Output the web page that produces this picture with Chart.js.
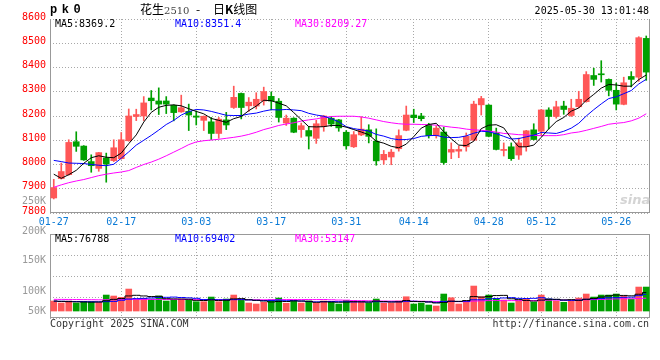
<!DOCTYPE html>
<html>
<head>
<meta charset="utf-8">
<title>pk0 日K线图</title>
<script src="https://cdn.jsdelivr.net/npm/chart.js@4.4.1/dist/chart.umd.min.js"></script>
<style>
    body { margin: 0; background: #fff; }
    #wrap { position: relative; width: 660px; height: 360px; overflow: hidden; background: #fff; }
    canvas { position: absolute; left: 0; }
    #priceChart { top: 0; }
    #volChart { top: 226px; }
    .t { position: absolute; font: 10px "DejaVu Sans Mono", monospace; line-height: 12px; white-space: pre; }
    .cn { font: 12px "Noto Sans CJK SC", sans-serif; line-height: 14px; top: 2px; }
    .gray { color: #999; text-align: right; right: 614px; }
</style>
</head>
<body>
<div id="wrap">
    <canvas id="priceChart" width="660" height="232"></canvas>
    <canvas id="volChart" width="660" height="114"></canvas>

    <span class="t" style="left:50px;top:3px;font:bold 12px 'Liberation Mono',monospace;letter-spacing:4.5px;line-height:14px">pk0</span>
    <span class="t cn" style="left:140px">花生<span style="font:10px 'DejaVu Serif',serif;color:#444">2510</span></span>
    <span class="t cn" style="left:196px">-</span>
    <span class="t cn" style="left:213px">日<b>K</b>线图</span>
    <span class="t" style="right:11px;top:5px">2025-05-30 13:01:48</span>

    <span class="t" id="lgMa5" style="left:55px;top:18px;color:#000"></span>
    <span class="t" id="lgMa10" style="left:175px;top:18px;color:#00f"></span>
    <span class="t" id="lgMa30" style="left:295px;top:18px;color:#f0f"></span>

    <span class="t" id="lgVol5" style="left:55px;top:233px;color:#000"></span>
    <span class="t" id="lgVol10" style="left:175px;top:233px;color:#00f"></span>
    <span class="t" id="lgVol30" style="left:295px;top:233px;color:#f0f"></span>

    <span class="t gray" style="top:195px">250K</span>
    <span class="t gray" style="top:225px">200K</span>
    <span class="t gray" style="top:254px">150K</span>
    <span class="t gray" style="top:285px">100K</span>
    <span class="t gray" style="top:305px">50K</span>

    <span class="t" style="left:620px;top:192px;font:italic bold 13px 'DejaVu Sans',sans-serif;color:#d4d4d4">sina</span>

    <span class="t" style="left:50px;top:318px;color:#333">Copyright 2025 SINA.COM</span>
    <span class="t" style="right:11px;top:318px;color:#333">http://finance.sina.com.cn</span>
</div>

<script>
// trading days shown on the chart
const dates = ['01-27','02-05','02-06','02-07','02-10','02-11','02-12','02-13','02-14','02-17',
    '02-18','02-19','02-20','02-21','02-24','02-25','02-26','02-27','02-28','03-03',
    '03-04','03-05','03-06','03-07','03-10','03-11','03-12','03-13','03-14','03-17',
    '03-18','03-19','03-20','03-21','03-24','03-25','03-26','03-27','03-28','03-31',
    '04-01','04-02','04-03','04-07','04-08','04-09','04-10','04-11','04-14','04-15',
    '04-16','04-17','04-18','04-21','04-22','04-23','04-24','04-25','04-28','04-29',
    '04-30','05-06','05-07','05-08','05-09','05-12','05-13','05-14','05-15','05-16',
    '05-19','05-20','05-21','05-22','05-23','05-26','05-27','05-28','05-29','05-30'];
const tickDates = ['01-27','02-17','03-03','03-17','03-31','04-14','04-28','05-12','05-26'];

const opens = [7862,7942,7958,8094,8076,8012,7984,8027,8016,8024,
    8098,8198,8200,8274,8262,8262,8244,8217,8219,8200,
    8182,8176,8128,8184,8235,8293,8242,8241,8262,8281,
    8261,8171,8191,8144,8140,8108,8157,8191,8184,8133,
    8073,8122,8143,8096,8019,8031,8065,8141,8204,8200,
    8164,8119,8134,8051,8055,8073,8100,8246,8245,8130,
    8058,8073,8039,8074,8143,8137,8225,8198,8241,8202,
    8238,8259,8367,8374,8351,8306,8248,8363,8360,8520];
const highs = [7939,8006,8102,8135,8078,8040,8050,8047,8102,8132,
    8229,8228,8280,8305,8316,8280,8246,8286,8249,8221,
    8200,8194,8194,8215,8323,8295,8276,8296,8319,8299,
    8272,8204,8193,8171,8157,8182,8202,8198,8186,8140,
    8136,8197,8164,8147,8058,8062,8143,8241,8228,8211,
    8170,8159,8154,8089,8076,8130,8261,8281,8247,8150,
    8089,8089,8109,8141,8168,8227,8234,8261,8261,8269,
    8302,8383,8397,8428,8353,8336,8360,8383,8527,8530];
const lows = [7858,7940,7956,8054,8017,7968,7972,7927,8012,8022,
    8096,8181,8181,8225,8206,8210,8180,8215,8140,8163,
    8140,8103,8108,8144,8231,8188,8219,8229,8245,8225,
    8175,8161,8131,8112,8064,8087,8137,8157,8137,8063,
    8070,8119,8089,7997,8001,7999,8055,8139,8173,8180,
    8109,8109,8001,8024,8028,8055,8098,8204,8114,8060,
    8035,8017,8021,8055,8101,8120,8147,8191,8207,8198,
    8234,8257,8326,8340,8283,8225,8246,8320,8343,8347];
const closes = [7905,7971,8091,8075,8019,7995,8049,8002,8069,8102,
    8200,8206,8254,8263,8249,8249,8214,8234,8204,8195,
    8199,8128,8187,8163,8277,8235,8257,8269,8301,8262,
    8194,8191,8133,8160,8117,8168,8200,8167,8151,8077,
    8123,8146,8116,8015,8042,8051,8119,8204,8193,8189,
    8119,8150,8008,8062,8062,8116,8249,8272,8116,8062,
    8062,8024,8089,8139,8103,8225,8198,8238,8227,8232,
    8269,8371,8351,8370,8306,8249,8337,8351,8523,8381];

const ma5 = [7960,7943,7958,7976,8005,8028,8036,8030,8028,8047,
    8086,8122,8175,8215,8236,8244,8246,8242,8230,8219,
    8209,8190,8182,8174,8189,8198,8222,8241,8265,8263,
    8253,8242,8214,8185,8156,8155,8156,8161,8161,8154,
    8144,8134,8123,8096,8088,8075,8069,8084,8115,8150,
    8165,8170,8135,8106,8080,8078,8096,8148,8162,8164,
    8151,8108,8073,8073,8080,8112,8147,8177,8194,8220,
    8233,8265,8289,8315,8330,8328,8323,8323,8350,8369.2];
const ma10 = [8017,8012,8006,8005,8004,8000,7997,7995,8001,8026,
    8052,8080,8100,8120,8142,8165,8182,8204,8218,8227,
    8225,8219,8211,8203,8202,8202,8208,8212,8220,8226,
    8225,8227,8225,8222,8211,8204,8199,8189,8176,8156,
    8148,8143,8138,8124,8117,8107,8102,8103,8107,8116,
    8119,8120,8113,8111,8112,8118,8129,8137,8135,8127,
    8116,8105,8107,8114,8121,8132,8130,8128,8137,8150,
    8170,8200,8226,8250,8272,8279,8292,8305,8332,8351.4];
const ma30 = [7906,7916,7925,7932,7938,7946,7954,7960,7965,7969,
    7975,7988,8000,8010,8022,8036,8051,8066,8082,8093,
    8098,8101,8104,8108,8112,8117,8124,8133,8144,8152,
    8161,8167,8172,8179,8184,8188,8194,8198,8199,8199,
    8199,8196,8191,8184,8177,8172,8168,8166,8166,8165,
    8164,8162,8158,8154,8151,8146,8143,8141,8138,8134,
    8128,8126,8123,8122,8120,8119,8119,8119,8123,8130,
    8134,8141,8149,8157,8166,8170,8173,8180,8191,8209.27];

const volumes = [41500,33200,41500,33200,38600,38600,36100,66400,62300,56900,
    91300,49800,52700,49800,62300,41500,45700,49800,45700,38600,
    38600,58100,38600,49800,66400,44400,33200,29100,36100,45700,
    54000,32000,41500,33200,41500,33200,41500,37400,29100,44400,
    41500,38600,33200,49800,33200,33200,41500,59300,29100,33200,
    24900,20800,70600,55200,29100,41500,103800,59300,66400,49800,
    45700,33200,41500,49800,36100,66400,49800,41500,36100,41500,
    54000,70600,58100,66400,66400,70600,62300,49800,99600,99600];
const volMa5 = [41500,40000,39000,38000,37600,37000,37600,42600,48400,52100,
    62600,65300,62600,60100,61200,51200,50400,49800,49000,44300,
    43700,46200,43900,44700,50300,51500,46500,44600,41800,37700,
    39600,39400,41900,41300,40400,36300,38200,37400,36500,37100,
    38800,38200,37400,41500,39300,37600,38200,43400,39300,39300,
    37600,33500,35700,40900,40100,43400,60000,57800,60000,64200,
    65000,50900,47300,44000,41300,45400,48700,48700,46000,47100,
    44600,48700,52100,58100,63100,66400,64800,63100,69700,76788];
const volMa10 = [41000,40500,40000,39500,39000,38500,38000,39000,40000,44800,
    49800,51500,52600,54300,56600,56900,57900,56200,54600,52700,
    47500,48300,46900,46900,47300,47600,46300,44300,43300,44000,
    45500,42900,43200,41600,39100,38000,38800,39600,38900,38800,
    37500,38200,37400,39000,38200,38200,38200,40400,40400,39300,
    37600,35800,39600,40100,39700,40500,46800,46800,50500,52100,
    54200,55500,52600,52000,52700,55200,49800,48000,45000,44200,
    45000,48700,50400,52100,55100,55500,56800,57600,63900,69402];
const volMa30 = [48500,48300,48000,47600,47300,47000,46600,46800,47000,47100,
    47900,48000,48100,48000,48300,48100,48000,48000,47800,47500,
    47200,47400,47100,47200,47600,47500,47200,46800,46700,47200,
    47600,47600,47600,47600,47700,47500,47700,46700,45600,45200,
    43500,43100,42500,42500,41500,41200,41100,41400,40900,40700,
    40200,39000,40000,40200,39000,38900,41200,42200,43300,43400,
    43100,43200,43200,43700,43500,44600,44900,45100,45300,45200,
    45600,46700,47500,48100,49200,50400,51100,50800,52000,53147];

const priceMin = 7800, priceMax = 8600, priceStep = 100;
const volMin = -29000, volMax = 320000;

const RED = '#ff5757';
const GREEN = '#00a000';
const GRID = '#a8a8a8';

const candleColors = closes.map((c, i) => c >= opens[i] ? RED : GREEN);
const last = arr => arr[arr.length - 1];

document.getElementById('lgMa5').textContent = 'MA5:' + last(ma5);
document.getElementById('lgMa10').textContent = 'MA10:' + last(ma10);
document.getElementById('lgMa30').textContent = 'MA30:' + last(ma30);
document.getElementById('lgVol5').textContent = 'MA5:' + last(volMa5);
document.getElementById('lgVol10').textContent = 'MA10:' + last(volMa10);
document.getElementById('lgVol30').textContent = 'MA30:' + last(volMa30);

Chart.defaults.font.family = '"DejaVu Sans Mono", monospace';
Chart.defaults.font.size = 10;
Chart.defaults.animation = false;

// solid frame round the plot area
const framePlugin = {
    id: 'frame',
    beforeDatasetsDraw(chart, args, opts) {
        const { ctx, chartArea: a } = chart;
        ctx.save();
        ctx.strokeStyle = '#999';
        ctx.lineWidth = 1;
        ctx.beginPath();
        ctx.moveTo(a.left + 0.5, a.top);
        ctx.lineTo(a.left + 0.5, a.bottom);
        ctx.moveTo(a.right - 0.5, a.top);
        ctx.lineTo(a.right - 0.5, a.bottom);
        ctx.moveTo(a.left, a.bottom - 0.5);
        ctx.lineTo(a.right, a.bottom - 0.5);
        if (opts.top) {
            ctx.moveTo(a.left, a.top + 0.5);
            ctx.lineTo(a.right, a.top + 0.5);
        }
        ctx.stroke();
        ctx.restore();
    }
};

function keepDateTicks(scale) {
    scale.ticks = scale.ticks.filter(t => tickDates.includes(dates[t.value]));
}

function lineSet(data, color, stepped) {
    return {
        type: 'line', data: data, borderColor: color, borderWidth: 1,
        pointRadius: 0, tension: 0, stepped: stepped || false, order: 0
    };
}

const xGrid = {
    offset: false,
    drawTicks: false,
    color: c => (c.tick && c.tick.value === 0) ? 'rgba(0,0,0,0)' : GRID
};

new Chart(document.getElementById('priceChart'), {
    type: 'bar',
    data: {
        labels: dates,
        datasets: [
            lineSet(ma5, '#000'),
            lineSet(ma10, '#00f'),
            lineSet(ma30, '#f0f'),
            {
                data: opens.map((o, i) => [o, closes[i]]),
                backgroundColor: candleColors,
                barThickness: 6, minBarLength: 1, grouped: false, order: 1
            },
            {
                data: lows.map((l, i) => [l, highs[i]]),
                backgroundColor: candleColors,
                barThickness: 1, grouped: false, order: 2
            }
        ]
    },
    options: {
        responsive: false,
        events: [],
        layout: { padding: { top: 19, right: 10, left: 0, bottom: 0 } },
        plugins: { legend: { display: false }, tooltip: { enabled: false }, frame: { top: false } },
        scales: {
            x: {
                afterBuildTicks: keepDateTicks,
                afterFit: s => { s.height = 19; },
                ticks: { autoSkip: false, maxRotation: 0, color: '#0a7ad6', padding: 3 },
                grid: xGrid,
                border: { display: false, dash: [1, 2] }
            },
            y: {
                min: priceMin, max: priceMax,
                afterFit: s => { s.width = 50; },
                ticks: {
                    stepSize: priceStep, color: '#f00', padding: 4, labelOffset: -2,
                    callback: v => String(v)
                },
                grid: { color: GRID, drawTicks: false },
                border: { display: false, dash: [1, 2] }
            }
        }
    },
    plugins: [framePlugin]
});

new Chart(document.getElementById('volChart'), {
    type: 'bar',
    data: {
        labels: dates,
        datasets: [
            lineSet(volMa5, '#000', 'middle'),
            lineSet(volMa10, '#00f', 'middle'),
            lineSet(volMa30, '#f0f', 'middle'),
            {
                data: volumes,
                backgroundColor: candleColors,
                barThickness: 6, grouped: false, order: 1
            }
        ]
    },
    options: {
        responsive: false,
        events: [],
        layout: { padding: { top: 8, right: 10, left: 0, bottom: 22 } },
        plugins: { legend: { display: false }, tooltip: { enabled: false }, frame: { top: true } },
        scales: {
            x: {
                afterBuildTicks: keepDateTicks,
                afterFit: s => { s.height = 0; },
                ticks: { display: false, autoSkip: false, maxRotation: 0 },
                grid: xGrid,
                border: { display: false, dash: [1, 2] }
            },
            y: {
                min: volMin, max: volMax,
                afterBuildTicks: s => {
                    s.ticks = [0, 1, 2, 3, 4].map(k => ({ value: volMin + k * (volMax - volMin) / 4 }));
                },
                afterFit: s => { s.width = 50; },
                ticks: { display: false },
                grid: { color: GRID, drawTicks: false },
                border: { display: false, dash: [1, 2] }
            }
        }
    },
    plugins: [framePlugin]
});
</script>
</body>
</html>
